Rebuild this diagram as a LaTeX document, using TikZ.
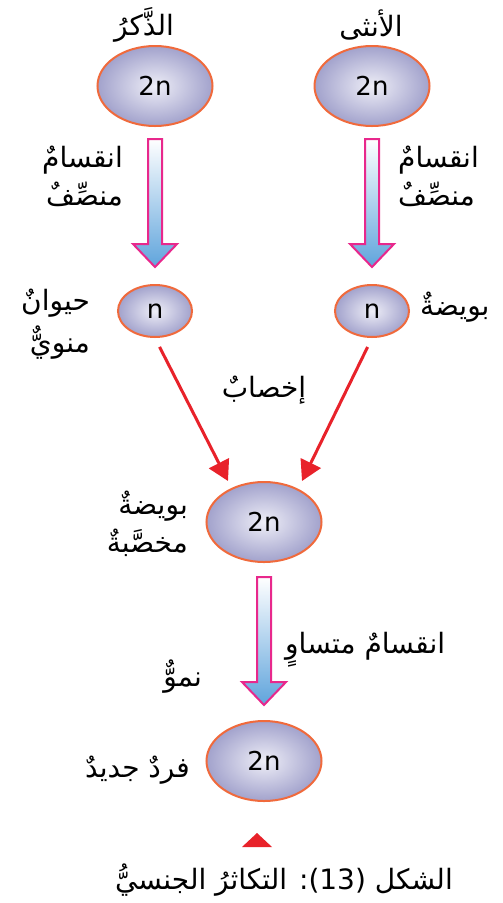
\documentclass[tikz,border=0pt]{standalone}
\usepackage{fontspec}
\setmainfont{DejaVu Sans}
\newfontfamily\arfont[Script=Arabic]{DejaVu Sans}
\newfontfamily\latfont{DejaVu Sans}
\TeXXeTstate=1
\usetikzlibrary{shapes.geometric,arrows.meta,calc}

\definecolor{cellout}{HTML}{A2A2CC}
\definecolor{cellin}{HTML}{EEEEF7}
\definecolor{cellbd}{HTML}{F06A3C}
\definecolor{barbd}{HTML}{E8288C}
\definecolor{barbot}{HTML}{5FA4DC}
\definecolor{fertred}{HTML}{E8222A}

\tikzset{
  cell/.style={ellipse, draw=cellbd, line width=2pt, shading=radial,
    inner color=cellin, outer color=cellout, minimum width=115pt,
    minimum height=80pt, inner sep=0pt, font=\latfont\fontsize{26}{30}\selectfont},
  smallcell/.style={cell, minimum width=74pt, minimum height=52pt},
  lbl/.style={font=\arfont\fontsize{28}{38}\selectfont, inner sep=0pt},
  bar/.style={draw=barbd, line width=2pt, top color=white, bottom color=barbot, line join=miter},
  fert/.style={draw=fertred, line width=3pt, -{Triangle[length=20pt,width=22pt]}},
}
\newcommand\blockarr[2]{%
  \path[bar] ($(#1)+(-7,0)$) -- ($(#1)+(7,0)$) -- ($(#2)+(7,-23)$) -- ($(#2)+(22,-23)$)
    -- (#2) -- ($(#2)+(-22,-23)$) -- ($(#2)+(-7,-23)$) -- cycle;}

\begin{document}
\begin{tikzpicture}[x=1pt,y=-1pt]
\useasboundingbox[fill=white] (0,0) rectangle (503,903);

% cells
\node[cell] (m) at (155,86) {2n};
\node[cell] (f) at (372,86) {2n};
\node[smallcell] (sp) at (155,311) {n};
\node[smallcell] (eg) at (372,311) {n};
\node[cell] (zy) at (264,522) {2n};
\node[cell] (nw) at (264,761) {2n};

% block arrows
\coordinate (a1s) at ([yshift=-12pt]m.south);
\coordinate (a1e) at ([yshift=17pt]sp.north);
\coordinate (a2s) at ([yshift=-12pt]f.south);
\coordinate (a2e) at ([yshift=17pt]eg.north);
\coordinate (a3s) at ([yshift=-14pt]zy.south);
\coordinate (a3e) at ([yshift=15pt]nw.north);
\blockarr{a1s}{a1e}
\blockarr{a2s}{a2e}
\blockarr{a3s}{a3e}

% fertilisation arrows
\draw[fert, shorten <=10pt] (sp.south) -- ([xshift=-36pt]zy.north);
\draw[fert, shorten <=10pt] (eg.south) -- ([xshift=38pt]zy.north);

% marker
\fill[fertred] (242,847) -- (272,847) -- (257,833) -- cycle;

% labels
\node[lbl] (tm) at (144,25) {\beginR الذَّكرُ\endR};
\node[lbl] (tf) at (371,25) {\beginR الأنثى\endR};
\node[lbl, anchor=east, align=right] (d1) at (123,176) {\beginR انقسامٌ\endR\\\beginR منصِّفٌ\endR};
\node[lbl, anchor=west, align=left] (d2) at (398,176) {\beginR انقسامٌ\endR\\\beginR منصِّفٌ\endR};
\node[lbl, anchor=east, align=right, font=\arfont\fontsize{28}{42}\selectfont] (lsp) at (90,324) {\beginR حيوانٌ\endR\\\beginR منويٌّ\endR};
\node[lbl, anchor=west] (leg) at (420,307) {\beginR بويضةٌ\endR};
\node[lbl] (lfe) at (264,390) {\beginR إخصابٌ\endR};
\node[lbl, anchor=east, align=right] (lzy) at (188,524) {\beginR بويضةٌ\endR\\\beginR مخصَّبةٌ\endR};
\node[lbl, anchor=west] (lmi) at (285,650) {\beginR انقسامٌ متساوٍ\endR};
\node[lbl, anchor=east] (lgr) at (202,677) {\beginR نموٌّ\endR};
\node[lbl, anchor=east] (lnw) at (190,770) {\beginR فردٌ جديدٌ\endR};
\node[lbl] (cap) at (284,880) {\beginR الشكل \beginL{\latfont(13)}\endL: التكاثرُ الجنسيُّ\endR};
\end{tikzpicture}
\end{document}
